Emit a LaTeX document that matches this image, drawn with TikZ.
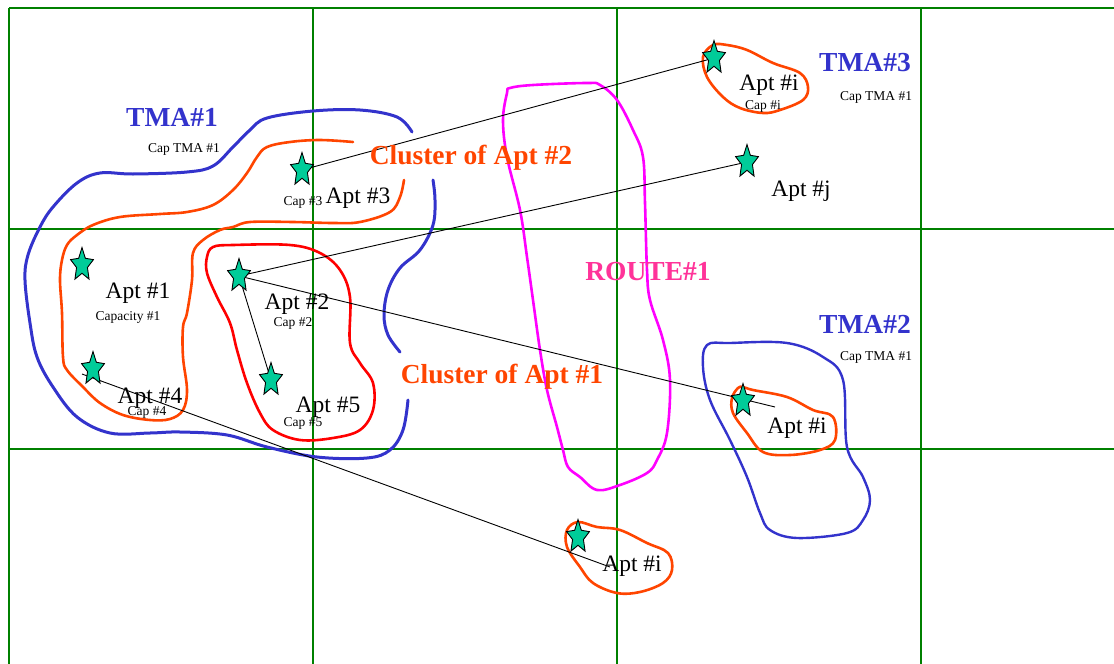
\documentclass[tikz,border=0pt]{standalone}
\usepackage{fontspec}
\setmainfont{Liberation Serif}
\usetikzlibrary{shapes.geometric}
\pgfdeclarelayer{background}
\pgfsetlayers{background,main}
\definecolor{gridgreen}{RGB}{0,128,0}
\definecolor{tmablue}{RGB}{51,51,204}
\definecolor{clorange}{RGB}{255,69,0}
\definecolor{clred}{RGB}{255,0,0}
\definecolor{routemag}{RGB}{255,0,255}
\definecolor{routetxt}{RGB}{255,51,153}
\definecolor{starfill}{RGB}{0,204,153}
\newcommand\aptstarat[3]{\begin{scope}[shift={(#2,#3)}]\node[aptstar,yscale=1.45,transform shape] (#1) at (0,0) {};\end{scope}}
\begin{document}
\begin{tikzpicture}[x=1pt,y=-1pt,
  gridline/.style={gridgreen, line width=2.7pt},
  tmacurve/.style={tmablue, line width=3pt, line cap=round, line join=round},
  orcurve/.style={clorange, line width=2.6pt, line cap=round, line join=round},
  redcurve/.style={clred, line width=2.6pt, line cap=round, line join=round},
  routecurve/.style={routemag, line width=2.6pt, line cap=round, line join=round},
  aptstar/.style={star, star points=5, star point ratio=2.1, minimum size=24pt, inner sep=0pt, draw=black, line width=0.9pt, fill=starfill},
  link/.style={black, line width=0.9pt},
  aptlbl/.style={font=\fontsize{23.5}{24}\selectfont, inner sep=0pt},
  caplbl/.style={font=\fontsize{13.5}{14}\selectfont, inner sep=0pt},
  tmalbl/.style={font=\fontsize{27.5}{28}\selectfont\bfseries, text=tmablue, inner sep=0pt},
  cluslbl/.style={font=\fontsize{27.5}{28}\selectfont\bfseries, text=clorange, inner sep=0pt},
  routelbl/.style={font=\fontsize{27.5}{28}\selectfont\bfseries, text=routetxt, inner sep=0pt},
  ]
\useasboundingbox (0,0) rectangle (1114,664);

% stars
\aptstarat{s3}{302}{170}
\aptstarat{s1}{82}{265}
\aptstarat{s2}{239}{276}
\aptstarat{s4}{93}{369}
\aptstarat{s5}{271}{380}
\aptstarat{si1}{714}{58}
\aptstarat{sj}{747}{162}
\aptstarat{si2}{743}{401}
\aptstarat{si3}{578}{537}

\coordinate (e2) at (775,407);
\coordinate (b4) at (82,374);
\coordinate (e4) at (610,567);

\begin{pgfonlayer}{background}
\fill[white] (0,0) rectangle (1114,664);
% grid
\draw[gridline] (9,8) -- (1114,8);
\draw[gridline] (9,229) -- (1114,229);
\draw[gridline] (9,449) -- (1114,449);
\foreach \gx in {9,313,617,921} \draw[gridline] (\gx,8) -- (\gx,664);

% TMA#1 outline
\draw[tmacurve] plot[smooth, tension=0.6] coordinates {(412,132) (397,117) (360,110) (313,111) (267,118) (250,130) (233,147) (213,166) (187,172) (133,174) (100,173) (77,183) (53,207) (40,227) (28,255) (25,280) (30,323) (37,357) (53,387) (77,417) (110,433) (150,433) (180,432) (227,435) (267,447) (317,457) (367,458) (390,450) (403,430) (408,400)};
\draw[tmacurve] plot[smooth, tension=0.6] coordinates {(433,180) (435,200) (433,225) (420,250) (400,268) (388,290) (384,315) (388,335) (400,352)};

% cluster of apt #2 (orange)
\draw[orcurve] plot[smooth, tension=0.6] coordinates {(353,142) (320,140) (290,142) (267,147) (257,157) (247,173) (233,190) (213,205) (187,212) (160,214) (120,217) (93,225) (77,235) (67,245) (62,260) (60,280) (62,313) (63,357) (67,370) (83,387) (100,403) (123,415) (150,420) (170,419) (183,410) (187,390) (183,357) (183,327) (187,313) (192,280) (193,253) (203,240) (220,230) (233,227) (250,222) (293,222) (333,223) (360,222) (390,212) (400,197) (404,180)};

% cluster of apt #1 (red)
\draw[redcurve] plot[smooth cycle, tension=0.6] coordinates {(213,247) (233,245) (290,245) (320,253) (340,270) (350,297) (350,343) (360,363) (373,383) (373,410) (360,430) (333,438) (300,440) (273,430) (260,413) (247,383) (237,350) (230,323) (217,297) (207,273) (207,257)};

% route
\draw[routecurve] plot[smooth cycle, tension=0.6] coordinates {(510,88) (533,85) (587,83) (600,85) (617,100) (633,130) (643,157) (645,203) (647,270) (650,300) (663,340) (670,380) (667,433) (657,460) (647,473) (620,485) (597,490) (580,477) (568,467) (563,450) (557,427) (547,390) (540,350) (533,300) (527,257) (520,210) (507,157) (503,120) (507,93)};

% top apt #i
\draw[orcurve] plot[smooth cycle, tension=0.6] coordinates {(703,57) (713,45) (727,45) (747,50) (773,63) (800,73) (808,87) (803,100) (780,110) (763,113) (740,108) (723,97) (707,77)};

% TMA#2
\draw[tmacurve, line width=2.4pt] plot[smooth cycle, tension=0.6] coordinates {(707,345) (730,343) (787,343) (823,357) (843,380) (847,447) (863,477) (870,500) (863,520) (847,533) (797,538) (770,530) (760,513) (747,477) (730,440) (710,400) (703,367)};
\draw[orcurve] plot[smooth cycle, tension=0.6] coordinates {(743,387) (753,390) (787,397) (813,410) (833,417) (835,440) (820,450) (790,455) (763,452) (747,433) (733,413) (732,398) (738,388)};

% bottom apt #i
\draw[orcurve] plot[smooth cycle, tension=0.6] coordinates {(567,530) (578,522) (597,527) (620,530) (647,543) (668,553) (672,570) (663,583) (640,592) (617,593) (593,583) (580,567) (567,547)};

% links
\draw[link] (s3.center) -- (si1.center);
\draw[link] (s2.center) -- (sj.center);
\draw[link] (s2.center) -- (e2);
\draw[link] (s2.center) -- (s5.center);
\draw[link] (b4) -- (e4);
\end{pgfonlayer}

% labels
\node[tmalbl] (tma1) at (172,117) {TMA\#1};
\node[caplbl] (captma1) at (184,149) {Cap TMA \#1};
\node[cluslbl] (clus2) at (471,158) {Cluster of Apt \#2};
\node[caplbl] (cap3) at (303,202) {Cap \#3};
\node[aptlbl] (apt3) at (358,198) {Apt \#3};
\node[aptlbl] (apt1) at (138,293) {Apt \#1};
\node[caplbl] (capy1) at (128,317) {Capacity \#1};
\node[aptlbl] (apt2) at (297,304) {Apt \#2};
\node[caplbl] (cap2) at (293,323) {Cap \#2};
\node[aptlbl] (apt4) at (150,398) {Apt \#4};
\node[caplbl] (cap4) at (147,412) {Cap \#4};
\node[aptlbl] (apt5) at (328,407) {Apt \#5};
\node[caplbl] (cap5) at (303,423) {Cap \#5};
\node[cluslbl] (clus1) at (502,377) {Cluster of Apt \#1};
\node[routelbl] (route1) at (648,272) {ROUTE\#1};
\node[tmalbl] (tma3) at (865,63) {TMA\#3};
\node[caplbl] (captma3) at (876,97) {Cap TMA \#1};
\node[aptlbl] (apti1) at (769,85) {Apt \#i};
\node[caplbl] (capi) at (763,106) {Cap \#i};
\node[aptlbl] (aptj) at (801,191) {Apt \#j};
\node[tmalbl] (tma2) at (865,324) {TMA\#2};
\node[caplbl] (captma2) at (876,357) {Cap TMA \#1};
\node[aptlbl] (apti2) at (797,428) {Apt \#i};
\node[aptlbl] (apti3) at (632,566) {Apt \#i};
\end{tikzpicture}
\end{document}
